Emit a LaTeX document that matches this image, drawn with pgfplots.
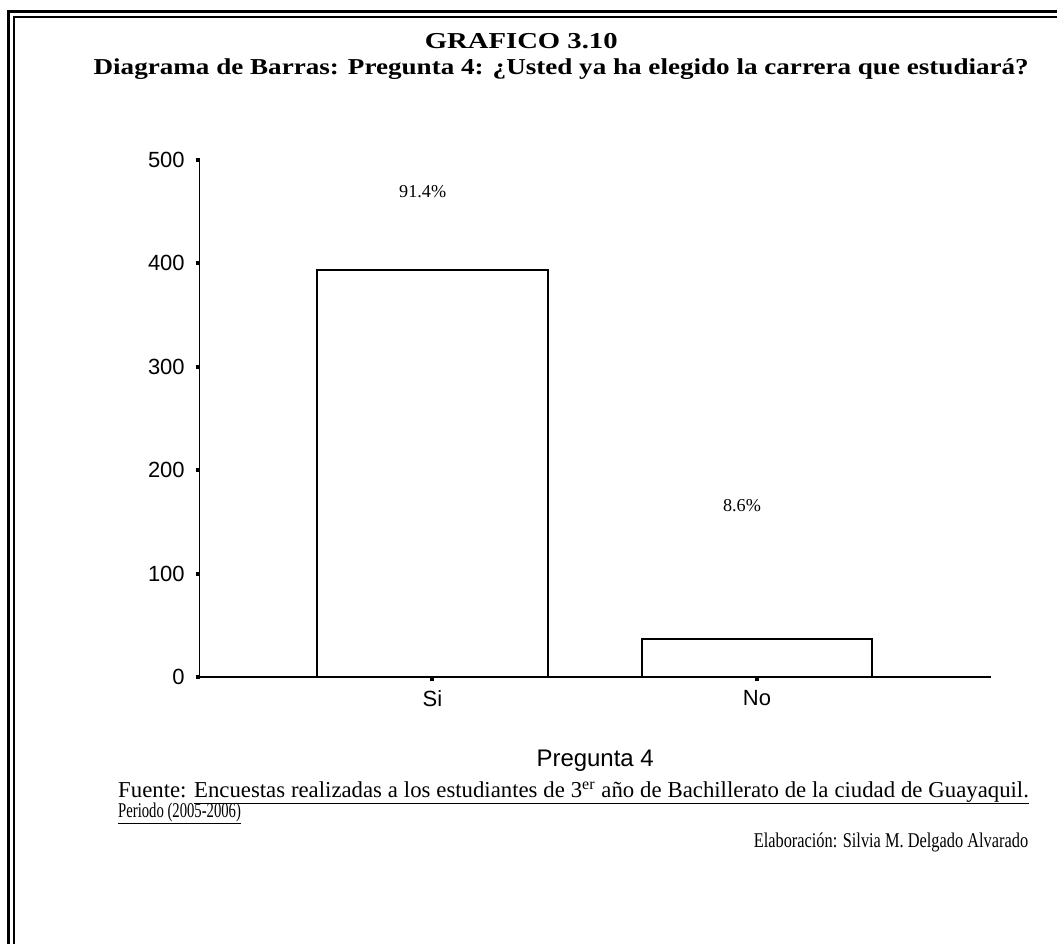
\documentclass[border=0pt]{standalone}
\usepackage{pgfplots}
\pgfplotsset{compat=1.18}
\usepackage{fontspec}
\setmainfont{Liberation Serif}
\setsansfont{Liberation Sans}
\newlength\fw

\begin{document}
\begin{tikzpicture}
% page area and double frame (cropped on the right and bottom)
\path (0,0) rectangle (529pt,-472.5pt);
\draw[line width=1.5pt] (4.3pt,-472.5pt) -- (4.3pt,-5.6pt) -- (529pt,-5.6pt);
\draw[line width=1pt] (7pt,-472.5pt) -- (7pt,-8.4pt) -- (529pt,-8.4pt);

% titles
\node[anchor=base, inner sep=0pt] at (261pt,-24.3pt)
  {\scalebox{1.26}[1]{\bfseries\fontsize{11.4}{13}\selectfont GRAFICO 3.10}};
\node[anchor=base, inner sep=0pt] at (281pt,-37.5pt)
  {\scalebox{1.19}[1]{\bfseries\fontsize{11.4}{13}\selectfont Diagrama de Barras: Pregunta 4: ¿Usted ya ha elegido la carrera que estudiará?}};

\begin{axis}[
    at={(100pt,-339pt)}, anchor=south west,
    scale only axis,
    width=396pt, height=259pt,
    xmin=-0.717, xmax=1.72,
    ymin=0, ymax=500,
    axis lines*=left,
    axis line style={line width=0.75pt},
    ybar, bar width=115.5pt,
    xtick={0,1}, xticklabels={Si,No},
    ytick={0,100,200,300,400,500},
    tick align=outside,
    major tick length=2pt,
    tick style={line width=2pt, black},
    ticklabel style={font=\sffamily\fontsize{11}{12}\selectfont},
    /pgf/number format/assume math mode=true,
    yticklabel style={xshift=-2pt},
    xticklabel style={yshift=-1pt},
    xlabel={Pregunta 4},
    xlabel style={font=\sffamily\fontsize{12}{14}\selectfont,
        at={(axis description cs:0.5,0)}, anchor=center, yshift=-42pt},
    clip=false,
]
\addplot[draw=black, fill=white, line width=1pt] coordinates {(0,393) (1,37)};
\node[font=\fontsize{9.1}{11}\selectfont] at (axis cs:-0.03,469) {91.4\%};
\node[font=\fontsize{9.1}{11}\selectfont] at (axis cs:0.954,166) {8.6\%};
\end{axis}

% source and author
\node[anchor=base west, inner sep=0pt, font=\fontsize{11.4}{13}\selectfont] at (59pt,-399.5pt)
  {\settowidth{\fw}{Fuente: }Fuente: \underline{\raisebox{0pt}[\height][1.2pt]{\makebox[\dimexpr456pt-\fw\relax][s]{Encuestas realizadas a los estudiantes de 3\textsuperscript{er} año de Bachillerato de la ciudad de Guayaquil.}}}};
\node[anchor=base west, inner sep=0pt] at (59pt,-409.5pt)
  {\underline{\raisebox{0pt}[\height][1.2pt]{\scalebox{0.7}[1]{\fontsize{10.5}{12}\selectfont Periodo (2005-2006)}}}};
\node[anchor=base east, inner sep=0pt] at (515pt,-424.5pt)
  {\scalebox{0.78}[1]{\fontsize{10.5}{12}\selectfont Elaboración: Silvia M. Delgado Alvarado}};
\end{tikzpicture}
\end{document}
